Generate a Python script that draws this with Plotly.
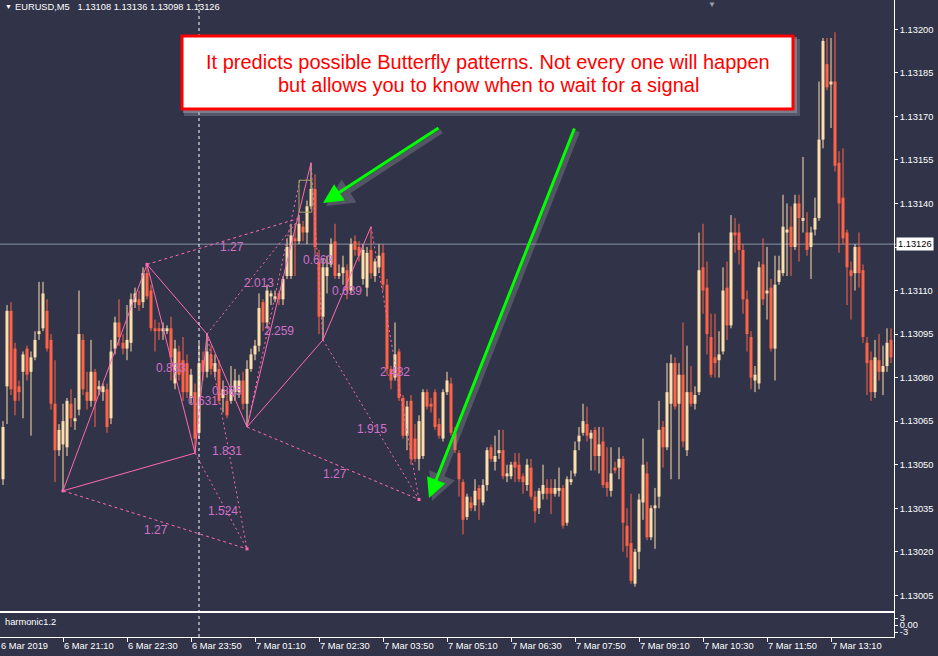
import plotly.graph_objects as go
import pandas as pd

# ---------------- data ----------------
header_symbol = "EURUSD,M5"
header_ohlc = ["1.13108", "1.13136", "1.13098", "1.13126"]
bid_price = 1.13126
first_bar_time = "2019-03-06 19:55"
day_separator_time = "2019-03-07 00:00"

opens = [
 1.13045,1.13077,1.13103,1.13090,1.13077,1.13082,1.13090,1.13082,1.13087,1.13095,
 1.13097,1.13103,1.13093,1.13071,1.13055,1.13057,1.13056,1.13071,1.13065,1.13069,
 1.13093,1.13075,1.13072,1.13082,1.13076,1.13075,1.13076,1.13066,1.13090,1.13099,
 1.13092,1.13090,1.13092,1.13106,1.13107,1.13106,1.13116,1.13110,1.13097,1.13097,
 1.13096,1.13096,1.13097,1.13078,1.13089,1.13086,1.13085,1.13073,1.13075,1.13061,
 1.13086,1.13082,1.13088,1.13082,1.13083,1.13073,1.13072,1.13072,1.13075,1.13075,
 1.13079,1.13071,1.13083,1.13088,1.13091,1.13106,1.13099,1.13108,1.13107,1.13109,
 1.13107,1.13115,1.13115,1.13128,1.13127,1.13132,1.13130,1.13139,1.13145,1.13120,
 1.13101,1.13115,1.13119,1.13127,1.13115,1.13116,1.13117,1.13110,1.13127,1.13125,
 1.13114,1.13111,1.13124,1.13115,1.13118,1.13123,1.13112,1.13083,1.13080,1.13089,
 1.13073,1.13060,1.13072,1.13059,1.13052,1.13053,1.13075,1.13071,1.13075,1.13064,
 1.13059,1.13075,1.13078,1.13061,1.13054,1.13044,1.13032,1.13037,1.13036,1.13042,
 1.13037,1.13043,1.13056,1.13051,1.13054,1.13055,1.13046,1.13046,1.13051,1.13050,
 1.13046,1.13043,1.13049,1.13039,1.13035,1.13040,1.13042,1.13042,1.13040,1.13041,
 1.13042,1.13030,1.13044,1.13047,1.13058,1.13061,1.13064,1.13059,1.13062,1.13053,
 1.13058,1.13044,1.13041,1.13049,1.13049,1.13052,1.13029,1.13023,1.13009,1.13020,
 1.13037,1.13047,1.13025,1.13035,1.13039,1.13063,1.13056,1.13071,1.13085,1.13071,
 1.13081,1.13055,1.13075,1.13071,1.13075,1.13118,1.13111,1.13094,1.13087,1.13086,
 1.13089,1.13111,1.13098,1.13130,1.13130,1.13124,1.13107,1.13094,1.13079,1.13078,
 1.13119,1.13109,1.13111,1.13090,1.13113,1.13116,1.13130,1.13132,1.13125,1.13140,
 1.13134,1.13130,1.13125,1.13131,1.13135,1.13162,1.13188,1.13181,1.13182,1.13154,
 1.13142,1.13130,1.13117,1.13116,1.13125,1.13117,1.13092,1.13086,1.13075,1.13086,
 1.13082,1.13084,1.13093]

highs = [
 1.13065,1.13105,1.13106,1.13092,1.13079,1.13089,1.13091,1.13089,1.13096,1.13113,
 1.13113,1.13107,1.13095,1.13086,1.13064,1.13071,1.13073,1.13076,1.13073,1.13110,
 1.13095,1.13082,1.13093,1.13083,1.13079,1.13078,1.13078,1.13093,1.13101,1.13107,
 1.13095,1.13105,1.13109,1.13111,1.13110,1.13118,1.13119,1.13112,1.13100,1.13099,
 1.13099,1.13098,1.13101,1.13093,1.13091,1.13094,1.13088,1.13083,1.13078,1.13092,
 1.13089,1.13095,1.13091,1.13088,1.13086,1.13079,1.13076,1.13084,1.13083,1.13081,
 1.13082,1.13086,1.13090,1.13093,1.13109,1.13107,1.13112,1.13110,1.13110,1.13110,
 1.13115,1.13128,1.13133,1.13133,1.13136,1.13134,1.13141,1.13154,1.13150,1.13124,
 1.13121,1.13122,1.13128,1.13133,1.13119,1.13122,1.13119,1.13128,1.13129,1.13127,
 1.13126,1.13125,1.13132,1.13121,1.13126,1.13126,1.13114,1.13084,1.13099,1.13090,
 1.13074,1.13072,1.13074,1.13064,1.13067,1.13076,1.13076,1.13073,1.13076,1.13066,
 1.13076,1.13082,1.13080,1.13063,1.13055,1.13045,1.13040,1.13039,1.13045,1.13043,
 1.13045,1.13056,1.13057,1.13060,1.13062,1.13062,1.13050,1.13051,1.13054,1.13054,
 1.13047,1.13052,1.13052,1.13041,1.13042,1.13050,1.13045,1.13045,1.13045,1.13049,
 1.13043,1.13046,1.13048,1.13058,1.13063,1.13071,1.13070,1.13062,1.13063,1.13063,
 1.13063,1.13056,1.13056,1.13051,1.13056,1.13053,1.13035,1.13040,1.13021,1.13040,
 1.13059,1.13051,1.13036,1.13042,1.13072,1.13065,1.13085,1.13088,1.13087,1.13085,
 1.13099,1.13091,1.13084,1.13077,1.13130,1.13133,1.13120,1.13102,1.13102,1.13096,
 1.13118,1.13120,1.13136,1.13135,1.13133,1.13126,1.13110,1.13096,1.13084,1.13120,
 1.13128,1.13125,1.13114,1.13122,1.13122,1.13143,1.13140,1.13139,1.13143,1.13143,
 1.13156,1.13137,1.13132,1.13142,1.13182,1.13197,1.13197,1.13197,1.13199,1.13158,
 1.13159,1.13131,1.13120,1.13126,1.13130,1.13119,1.13094,1.13089,1.13093,1.13095,
 1.13091,1.13097,1.13097]

lows = [
 1.13043,1.13064,1.13074,1.13067,1.13072,1.13066,1.13079,1.13060,1.13086,1.13093,
 1.13096,1.13089,1.13069,1.13044,1.13053,1.13041,1.13053,1.13063,1.13062,1.13067,
 1.13074,1.13069,1.13070,1.13063,1.13074,1.13072,1.13061,1.13064,1.13088,1.13091,
 1.13088,1.13086,1.13089,1.13104,1.13103,1.13104,1.13107,1.13096,1.13089,1.13093,
 1.13093,1.13095,1.13079,1.13076,1.13079,1.13072,1.13073,1.13071,1.13054,1.13059,
 1.13079,1.13080,1.13081,1.13080,1.13071,1.13068,1.13066,1.13071,1.13072,1.13073,
 1.13069,1.13063,1.13082,1.13086,1.13089,1.13096,1.13097,1.13105,1.13106,1.13105,
 1.13105,1.13114,1.13114,1.13115,1.13126,1.13127,1.13126,1.13138,1.13122,1.13095,
 1.13093,1.13109,1.13118,1.13114,1.13114,1.13112,1.13107,1.13109,1.13122,1.13120,
 1.13112,1.13108,1.13114,1.13113,1.13116,1.13110,1.13081,1.13076,1.13079,1.13072,
 1.13059,1.13055,1.13050,1.13051,1.13048,1.13052,1.13069,1.13068,1.13062,1.13059,
 1.13058,1.13074,1.13060,1.13054,1.13039,1.13026,1.13031,1.13034,1.13034,1.13031,
 1.13036,1.13041,1.13051,1.13048,1.13052,1.13045,1.13044,1.13045,1.13044,1.13044,
 1.13040,1.13041,1.13038,1.13030,1.13033,1.13038,1.13038,1.13033,1.13039,1.13039,
 1.13028,1.13029,1.13043,1.13046,1.13055,1.13060,1.13058,1.13048,1.13048,1.13047,
 1.13042,1.13039,1.13039,1.13047,1.13045,1.13020,1.13018,1.13009,1.13008,1.13014,
 1.13031,1.13024,1.13024,1.13021,1.13035,1.13049,1.13055,1.13045,1.13069,1.13045,
 1.13056,1.13053,1.13070,1.13069,1.13074,1.13102,1.13088,1.13080,1.13080,1.13080,
 1.13088,1.13093,1.13097,1.13123,1.13119,1.13102,1.13089,1.13076,1.13075,1.13076,
 1.13105,1.13100,1.13089,1.13079,1.13112,1.13115,1.13115,1.13115,1.13124,1.13120,
 1.13130,1.13122,1.13114,1.13129,1.13134,1.13159,1.13179,1.13166,1.13151,1.13123,
 1.13126,1.13105,1.13100,1.13110,1.13111,1.13092,1.13074,1.13072,1.13073,1.13079,
 1.13074,1.13082,1.13085]

closes = [
 1.13063,1.13103,1.13076,1.13072,1.13075,1.13088,1.13081,1.13087,1.13093,1.13096,
 1.13109,1.13090,1.13071,1.13055,1.13062,1.13065,1.13072,1.13066,1.13066,1.13095,
 1.13076,1.13072,1.13082,1.13072,1.13077,1.13077,1.13063,1.13089,1.13099,1.13094,
 1.13090,1.13093,1.13107,1.13109,1.13105,1.13116,1.13108,1.13097,1.13096,1.13096,
 1.13097,1.13097,1.13087,1.13090,1.13081,1.13075,1.13075,1.13081,1.13059,1.13085,
 1.13082,1.13089,1.13083,1.13085,1.13072,1.13076,1.13067,1.13076,1.13079,1.13079,
 1.13071,1.13083,1.13088,1.13091,1.13104,1.13099,1.13110,1.13109,1.13108,1.13107,
 1.13114,1.13125,1.13129,1.13127,1.13133,1.13130,1.13139,1.13145,1.13125,1.13101,
 1.13118,1.13118,1.13126,1.13115,1.13116,1.13118,1.13110,1.13126,1.13124,1.13122,
 1.13124,1.13123,1.13116,1.13120,1.13122,1.13112,1.13083,1.13079,1.13088,1.13073,
 1.13060,1.13070,1.13052,1.13052,1.13065,1.13075,1.13070,1.13070,1.13063,1.13060,
 1.13075,1.13079,1.13061,1.13055,1.13045,1.13031,1.13039,1.13035,1.13041,1.13038,
 1.13043,1.13055,1.13052,1.13053,1.13055,1.13046,1.13047,1.13050,1.13049,1.13045,
 1.13044,1.13050,1.13039,1.13034,1.13041,1.13043,1.13040,1.13040,1.13042,1.13042,
 1.13029,1.13045,1.13045,1.13055,1.13060,1.13065,1.13060,1.13061,1.13053,1.13057,
 1.13043,1.13042,1.13047,1.13048,1.13052,1.13030,1.13022,1.13010,1.13020,1.13038,
 1.13050,1.13025,1.13035,1.13036,1.13062,1.13056,1.13075,1.13085,1.13070,1.13081,
 1.13058,1.13075,1.13071,1.13074,1.13117,1.13110,1.13095,1.13081,1.13085,1.13088,
 1.13110,1.13098,1.13130,1.13129,1.13124,1.13107,1.13095,1.13080,1.13081,1.13118,
 1.13107,1.13110,1.13090,1.13112,1.13117,1.13132,1.13131,1.13125,1.13140,1.13135,
 1.13135,1.13124,1.13130,1.13135,1.13162,1.13196,1.13180,1.13182,1.13153,1.13140,
 1.13128,1.13118,1.13115,1.13125,1.13116,1.13094,1.13085,1.13075,1.13087,1.13082,
 1.13084,1.13092,1.13087]

price_tick_labels = ["1.13005", "1.13020", "1.13035", "1.13050", "1.13065", "1.13080", "1.13095",
                     "1.13110", "1.13125", "1.13140", "1.13155", "1.13170", "1.13185", "1.13200"]
time_tick_values = ["2019-03-06 21:10", "2019-03-06 22:30", "2019-03-06 23:50", "2019-03-07 01:10",
                    "2019-03-07 02:30", "2019-03-07 03:50", "2019-03-07 05:10", "2019-03-07 06:30",
                    "2019-03-07 07:50", "2019-03-07 09:10", "2019-03-07 10:30", "2019-03-07 11:50",
                    "2019-03-07 13:10"]
time_tick_labels = ["6 Mar 21:10", "6 Mar 22:30", "6 Mar 23:50", "7 Mar 01:10", "7 Mar 02:30",
                    "7 Mar 03:50", "7 Mar 05:10", "7 Mar 06:30", "7 Mar 07:50", "7 Mar 09:10",
                    "7 Mar 10:30", "7 Mar 11:50", "7 Mar 13:10"]
first_date_label = "6 Mar 2019"
indicator_name = "harmonic1.2"
indicator_ticks = [3, 0, -3]
indicator_tick_labels = ["3", "0.00", "-3"]

# harmonic pattern pivot points
pivot_names = ["X1", "A1", "B1", "C1", "D1", "P1", "Q1", "A2", "B2", "C2", "E1", "E2"]
pivot_times = ["2019-03-06 21:10", "2019-03-06 22:55", "2019-03-06 23:55", "2019-03-07 00:10",
               "2019-03-07 01:00", "2019-03-07 02:06", "2019-03-07 02:06", "2019-03-07 02:20",
               "2019-03-07 02:35", "2019-03-07 03:35", "2019-03-07 01:00", "2019-03-07 04:35"]
pivot_prices = [1.13041, 1.13119, 1.13054, 1.13095, 1.13063, 1.13135, 1.13148, 1.13154,
                1.13093, 1.13132, 1.13021, 1.13038]
solid_legs = [("X1", "A1"), ("A1", "B1"), ("X1", "B1"), ("B1", "C1"), ("A1", "C1"), ("C1", "D1"),
              ("D1", "A2"), ("D1", "B2"), ("B2", "C2")]
dashed_legs = [("A1", "P1"), ("X1", "E1"), ("D1", "E2")]
dotted_legs = [("C1", "P1"), ("D1", "Q1"), ("B1", "E1"), ("C1", "E1"), ("A2", "B2"),
               ("B2", "E2"), ("C2", "E2")]
pivot_dots = ["X1", "A1", "E1", "E2"]

ratio_texts = ["1.27", "2.013", "2.259", "0.663", "0.639", "0.833", "0.805", "0.631",
               "1.831", "1.524", "1.27", "2.432", "1.915", "1.27"]
ratio_times = ["2019-03-07 00:41", "2019-03-07 01:15", "2019-03-07 01:40", "2019-03-07 02:29",
               "2019-03-07 03:05", "2019-03-06 23:25", "2019-03-07 00:35", "2019-03-07 00:05",
               "2019-03-07 00:35", "2019-03-07 00:30", "2019-03-06 23:06", "2019-03-07 04:05",
               "2019-03-07 03:36", "2019-03-07 02:50"]
ratio_prices = [1.13125, 1.131126, 1.130961, 1.131205, 1.131099, 1.130833, 1.130754, 1.13072,
                1.130547, 1.130341, 1.130275, 1.130819, 1.130623, 1.130468]

prz_times = ["2019-03-07 02:05", "2019-03-07 02:21"]
prz_prices = [1.13137, 1.13148]

callout_lines = ["It predicts possible Butterfly patterns. Not every one will happen",
                 "but allows you to know when to wait for a signal"]

# ---------------- styling ----------------
W, H = 938, 656
BG = "#313448"
BULL = "#FFDEAD"
BEAR = "#FF6347"
PINK = "#ff69b4"
LABEL_PINK = "#d070c8"
FONT = "Liberation Sans"
FS = 9.3

def px(x):
    return x / W

def py(y):
    return 1 - y / H

bar = pd.Timedelta(minutes=5)
times = pd.date_range(first_bar_time, periods=len(opens), freq="5min")
x_range = [times[0] - 0.75 * bar, times[-1] + 0.75 * bar]
body_w = 0.75 * bar.total_seconds() * 1000
min_body = 0.000004

fig = go.Figure()

# wicks
for up, col in [(True, BULL), (False, BEAR)]:
    wx, wy = [], []
    for t, o, h, l, c in zip(times, opens, highs, lows, closes):
        if (c >= o) == up:
            wx += [t, t, None]
            wy += [l, h, None]
    fig.add_trace(go.Scatter(x=wx, y=wy, mode="lines", line=dict(color=col, width=1),
                             hoverinfo="skip", xaxis="x", yaxis="y"))

# bodies
for up, col in [(True, BULL), (False, BEAR)]:
    bx, bb, bh = [], [], []
    for t, o, c in zip(times, opens, closes):
        if (c >= o) == up:
            bx.append(t)
            bb.append(min(o, c))
            bh.append(max(abs(c - o), min_body))
    fig.add_trace(go.Bar(x=bx, y=bh, base=bb, width=body_w, marker=dict(color=col, line=dict(width=0)),
                         hoverinfo="skip", xaxis="x", yaxis="y"))

# harmonic pattern legs
piv = {n: (t, p) for n, t, p in zip(pivot_names, pivot_times, pivot_prices)}

def legs_xy(legs):
    xs, ys = [], []
    for a, b in legs:
        xs += [piv[a][0], piv[b][0], None]
        ys += [piv[a][1], piv[b][1], None]
    return xs, ys

for legs, dash in [(solid_legs, "solid"), (dashed_legs, "3px,3px"), (dotted_legs, "2px,3px")]:
    xs, ys = legs_xy(legs)
    fig.add_trace(go.Scatter(x=xs, y=ys, mode="lines", line=dict(color=PINK, width=1, dash=dash),
                             hoverinfo="skip", xaxis="x", yaxis="y"))

fig.add_trace(go.Scatter(x=[piv[n][0] for n in pivot_dots], y=[piv[n][1] for n in pivot_dots],
                         mode="markers", marker=dict(symbol="square", size=3, color=PINK),
                         hoverinfo="skip", xaxis="x", yaxis="y"))

# empty indicator panel trace
fig.add_trace(go.Scatter(x=[times[0]], y=[0], mode="markers", marker=dict(opacity=0),
                         hoverinfo="skip", xaxis="x2", yaxis="y2"))

shapes = []
shapes.append(dict(type="line", xref="paper", yref="y", x0=0, x1=px(896), y0=bid_price, y1=bid_price,
                   line=dict(color="#8796a6", width=1), layer="below"))
shapes.append(dict(type="line", xref="x", yref="paper", x0=day_separator_time, x1=day_separator_time,
                   y0=py(637), y1=1, line=dict(color="white", width=1, dash="3px,3px"), layer="above"))
shapes.append(dict(type="rect", xref="x", yref="y", x0=prz_times[0], x1=prz_times[1],
                   y0=prz_prices[0], y1=prz_prices[1], line=dict(color="#a7a463", width=1)))
shapes.append(dict(type="rect", xref="paper", yref="paper", x0=px(184), x1=px(800), y0=py(116), y1=py(39),
                   fillcolor="rgba(150,154,170,0.35)", line=dict(width=0)))
shapes.append(dict(type="rect", xref="paper", yref="paper", x0=px(183), x1=px(797), y0=py(113), y1=py(37),
                   fillcolor="rgba(160,164,178,0.5)", line=dict(width=0)))
shapes.append(dict(type="rect", xref="paper", yref="paper", x0=px(182), x1=px(793), y0=py(109), y1=py(36),
                   fillcolor="white", line=dict(color="#ff0000", width=3)))

ann = []
ann.append(dict(xref="paper", yref="paper", x=px(3), y=py(7), xanchor="left", yanchor="middle",
                text="\u25bc", showarrow=False, font=dict(family=FONT, size=7, color="white")))
ann.append(dict(xref="paper", yref="paper", x=px(13), y=py(7), xanchor="left", yanchor="middle",
                text=header_symbol + "\u00a0\u00a0\u00a0" + " ".join(header_ohlc), showarrow=False,
                font=dict(family=FONT, size=FS, color="white")))
ann.append(dict(xref="paper", yref="paper", x=px(712), y=py(4), xanchor="center", yanchor="middle",
                text="\u25bc", showarrow=False, font=dict(family=FONT, size=8, color="#9aa0ab")))
ann.append(dict(xref="paper", yref="paper", x=px(3), y=py(622), xanchor="left", yanchor="middle",
                text=indicator_name, showarrow=False, font=dict(family=FONT, size=FS, color="white")))
ann.append(dict(xref="paper", yref="paper", x=px(-1), y=py(646), xanchor="left", yanchor="middle",
                text=first_date_label, showarrow=False, font=dict(family=FONT, size=FS, color="white")))
ann.append(dict(xref="paper", yref="y", x=px(896), y=bid_price, xanchor="left", yanchor="middle",
                text=f"{bid_price:.5f}", showarrow=False, bgcolor="white", borderpad=1,
                font=dict(family=FONT, size=FS, color="black")))
for line_text, yy in zip(callout_lines, [62, 85]):
    ann.append(dict(xref="paper", yref="paper", x=px(488), y=py(yy), xanchor="center", yanchor="middle",
                    text=line_text, showarrow=False, font=dict(family=FONT, size=20, color="#ff0000")))
for t, tm, pr in zip(ratio_texts, ratio_times, ratio_prices):
    ann.append(dict(xref="x", yref="y", x=tm, y=pr, text=t, showarrow=False, xanchor="center",
                    yanchor="middle", font=dict(family=FONT, size=12, color=LABEL_PINK)))
for (hx, hy, tx, ty) in [(323, 203, 440, 127), (429, 498, 575, 127)]:
    ann.append(dict(xref="paper", yref="paper", x=px(hx + 3), y=py(hy + 3), ax=tx - hx, ay=ty - hy,
                    text="", showarrow=True, arrowhead=2, arrowsize=1.1, arrowwidth=5,
                    arrowcolor="rgba(150,150,160,0.35)", standoff=0))
    ann.append(dict(xref="paper", yref="paper", x=px(hx), y=py(hy), ax=tx - hx, ay=ty - hy,
                    text="", showarrow=True, arrowhead=2, arrowsize=1.3, arrowwidth=3,
                    arrowcolor="#00ff00", standoff=0))

tickfont = dict(family=FONT, size=FS, color="white")
fig.update_layout(
    width=W, height=H, margin=dict(l=0, r=0, t=0, b=0, autoexpand=False),
    paper_bgcolor=BG, plot_bgcolor=BG, showlegend=False, barmode="overlay",
    shapes=shapes, annotations=ann,
    xaxis=dict(domain=[0, px(894)], range=x_range, type="date", anchor="y", showgrid=False,
               zeroline=False, showline=True, linecolor="white", linewidth=1, showticklabels=False,
               ticks="", fixedrange=True, automargin=False),
    yaxis=dict(domain=[py(611), 1], range=[1.129996, 1.132101], anchor="x", side="right",
               showgrid=False, zeroline=False, showline=True, linecolor="white", linewidth=1,
               ticks="outside", ticklen=3, tickcolor="white",
               tickvals=[float(s) for s in price_tick_labels], ticktext=price_tick_labels,
               tickfont=tickfont, fixedrange=True, automargin=False),
    xaxis2=dict(domain=[0, px(894)], range=x_range, type="date", anchor="y2", showgrid=False,
                zeroline=False, showline=True, mirror=True, linecolor="white", linewidth=1,
                ticks="outside", ticklen=4, tickcolor="white",
                tickvals=time_tick_values, ticktext=time_tick_labels,
                ticklabelposition="outside right", tickfont=tickfont, fixedrange=True,
                automargin=False),
    yaxis2=dict(domain=[py(637), py(613)], range=[-5.14, 5.14], anchor="x2", side="right",
                showgrid=False, zeroline=False, showline=True, linecolor="white", linewidth=1,
                ticks="outside", ticklen=3, tickcolor="white",
                tickvals=indicator_ticks, ticktext=indicator_tick_labels, tickfont=tickfont,
                fixedrange=True, automargin=False),
)

fig.write_html("out.html", config={"displayModeBar": False},
               post_script="document.body.style.margin='0px';document.body.style.overflow='hidden';")
